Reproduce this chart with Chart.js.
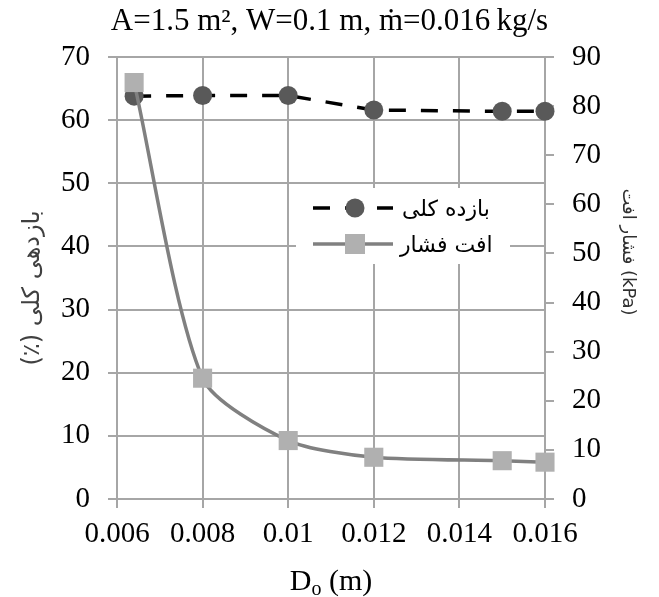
<!DOCTYPE html>
<html>
<head>
<meta charset="utf-8">
<script src="https://cdn.jsdelivr.net/npm/chart.js@4.4.1/dist/chart.umd.min.js"></script>
<style>
  html, body { margin: 0; padding: 0; background: #fff; }
  #c { display: block; }
</style>
</head>
<body>
<canvas id="c" width="659" height="597"></canvas>
<script>
// values
const diameters = [0.0064, 0.008, 0.01, 0.012, 0.015, 0.016];
const efficiency = [63.8, 63.9, 63.9, 61.6, 61.4, 61.4];     // left axis, %
const pressureDrop = [84.8, 24.6, 11.9, 8.5, 7.8, 7.5];      // right axis, kPa
const xTicks = [0.006, 0.008, 0.01, 0.012, 0.014, 0.016];

const titleText = 'A=1.5 m\u00B2, W=0.1 m, \u1E41=0.016\u2009kg/s';
const effLabel = 'بازده کلی';
const dpLabel = 'افت فشار';
const leftTitle = '\u202Bبازدهی کلی (٪)\u202C';
const rightTitle = 'افت\u200E \u200Eفشار (kPa)';

const serif = '"Liberation Serif", "Times New Roman", serif';
const arabic = '"DejaVu Sans", sans-serif';
const gridColor = '#a6a6a6';

const pts = (ys) => diameters.map((x, i) => ({ x, y: ys[i] }));

const extras = {
  id: 'extras',
  afterDraw(chart) {
    const ctx = chart.ctx;
    ctx.save();

    // left axis title
    ctx.save();
    ctx.translate(33, 288);
    ctx.rotate(-Math.PI / 2);
    ctx.font = '24px ' + arabic;
    ctx.fillStyle = '#404040';
    ctx.textAlign = 'center';
    ctx.textBaseline = 'middle';
    ctx.direction = 'rtl';
    ctx.fillText(leftTitle, 0, 0);
    ctx.restore();

    // right axis title
    ctx.save();
    ctx.translate(628, 252);
    ctx.rotate(Math.PI / 2);
    ctx.font = '18px ' + arabic;
    ctx.fillStyle = '#303030';
    ctx.textAlign = 'center';
    ctx.textBaseline = 'middle';
    ctx.direction = 'ltr';
    ctx.fillText(rightTitle, 0, 0);
    ctx.restore();

    // x axis title, D with subscript o
    ctx.fillStyle = '#000';
    ctx.textBaseline = 'alphabetic';
    ctx.textAlign = 'left';
    ctx.font = '30px ' + serif;
    const wD = ctx.measureText('D').width;
    const wRest = ctx.measureText(' (m)').width;
    ctx.font = '20px ' + serif;
    const wo = ctx.measureText('o').width;
    let x0 = 331 - (wD + wo + wRest) / 2;
    const base = 590;
    ctx.font = '30px ' + serif;
    ctx.fillText('D', x0, base);
    ctx.font = '20px ' + serif;
    ctx.fillText('o', x0 + wD, base + 5);
    ctx.font = '30px ' + serif;
    ctx.fillText(' (m)', x0 + wD + wo, base);

    // legend box
    ctx.fillStyle = '#fff';
    ctx.fillRect(296, 188, 214, 76);
    // row 1: dashed black line with dark circle
    ctx.strokeStyle = '#000';
    ctx.lineWidth = 3.5;
    ctx.setLineDash([17, 15]);
    ctx.beginPath();
    ctx.moveTo(313, 208);
    ctx.lineTo(393, 208);
    ctx.stroke();
    ctx.setLineDash([]);
    ctx.fillStyle = '#595959';
    ctx.beginPath();
    ctx.arc(355, 208, 9.5, 0, Math.PI * 2);
    ctx.fill();
    // row 2: grey line with light square
    ctx.strokeStyle = '#808080';
    ctx.beginPath();
    ctx.moveTo(313, 244);
    ctx.lineTo(393, 244);
    ctx.stroke();
    ctx.fillStyle = '#b0b0b0';
    ctx.fillRect(345, 234, 20, 20);
    // labels
    ctx.fillStyle = '#000';
    ctx.font = '22px ' + arabic;
    ctx.textAlign = 'left';
    ctx.textBaseline = 'middle';
    ctx.direction = 'rtl';
    ctx.fillText(effLabel, 402, 210);
    ctx.fillText(dpLabel, 400, 246);
    ctx.restore();
  }
};

new Chart(document.getElementById('c'), {
  type: 'line',
  data: {
    datasets: [
      {
        label: dpLabel,
        data: pts(pressureDrop),
        yAxisID: 'y1',
        order: 0,
        borderColor: '#808080',
        borderWidth: 3.5,
        tension: 0.25,
        pointStyle: 'rect',
        pointRadius: 13.5,
        pointBackgroundColor: '#b0b0b0',
        pointBorderWidth: 0,
        clip: false
      },
      {
        label: effLabel,
        data: pts(efficiency),
        yAxisID: 'y',
        order: 1,
        borderColor: '#000',
        borderWidth: 3.5,
        borderDash: [17, 15],
        tension: 0,
        pointStyle: 'circle',
        pointRadius: 9.5,
        pointBackgroundColor: '#595959',
        pointBorderWidth: 0,
        clip: false
      }
    ]
  },
  options: {
    responsive: false,
    animation: false,
    layout: { padding: 0 },
    plugins: {
      legend: { display: false },
      tooltip: { enabled: false },
      title: {
        display: true,
        text: titleText,
        color: '#000',
        font: { family: serif, size: 31, weight: 'normal', lineHeight: 1.2 },
        padding: { top: 3, bottom: 16.8 }
      }
    },
    scales: {
      x: {
        type: 'linear',
        min: 0.006,
        max: 0.016,
        afterBuildTicks: s => { s.ticks = xTicks.map(v => ({ value: v })); },
        afterFit: s => { s.height = 98; },
        ticks: { color: '#000', font: { family: serif, size: 29 }, padding: 9, maxRotation: 0, callback: v => String(v) },
        grid: { color: gridColor, lineWidth: 2, tickLength: 9 },
        border: { color: gridColor, width: 2 }
      },
      y: {
        position: 'left',
        min: 0,
        max: 70,
        afterFit: s => { s.width = 117; },
        ticks: { stepSize: 10, color: '#000', font: { family: serif, size: 29 }, padding: 18 },
        grid: { color: gridColor, lineWidth: 2, tickLength: 9 },
        border: { color: gridColor, width: 2 }
      },
      y1: {
        position: 'right',
        min: 0,
        max: 90,
        afterFit: s => { s.width = 114; },
        ticks: { stepSize: 10, color: '#000', font: { family: serif, size: 29 }, padding: 18 },
        grid: { drawOnChartArea: false, color: gridColor, lineWidth: 2, tickLength: 9 },
        border: { color: gridColor, width: 2 }
      }
    }
  },
  plugins: [extras]
});
</script>
</body>
</html>
